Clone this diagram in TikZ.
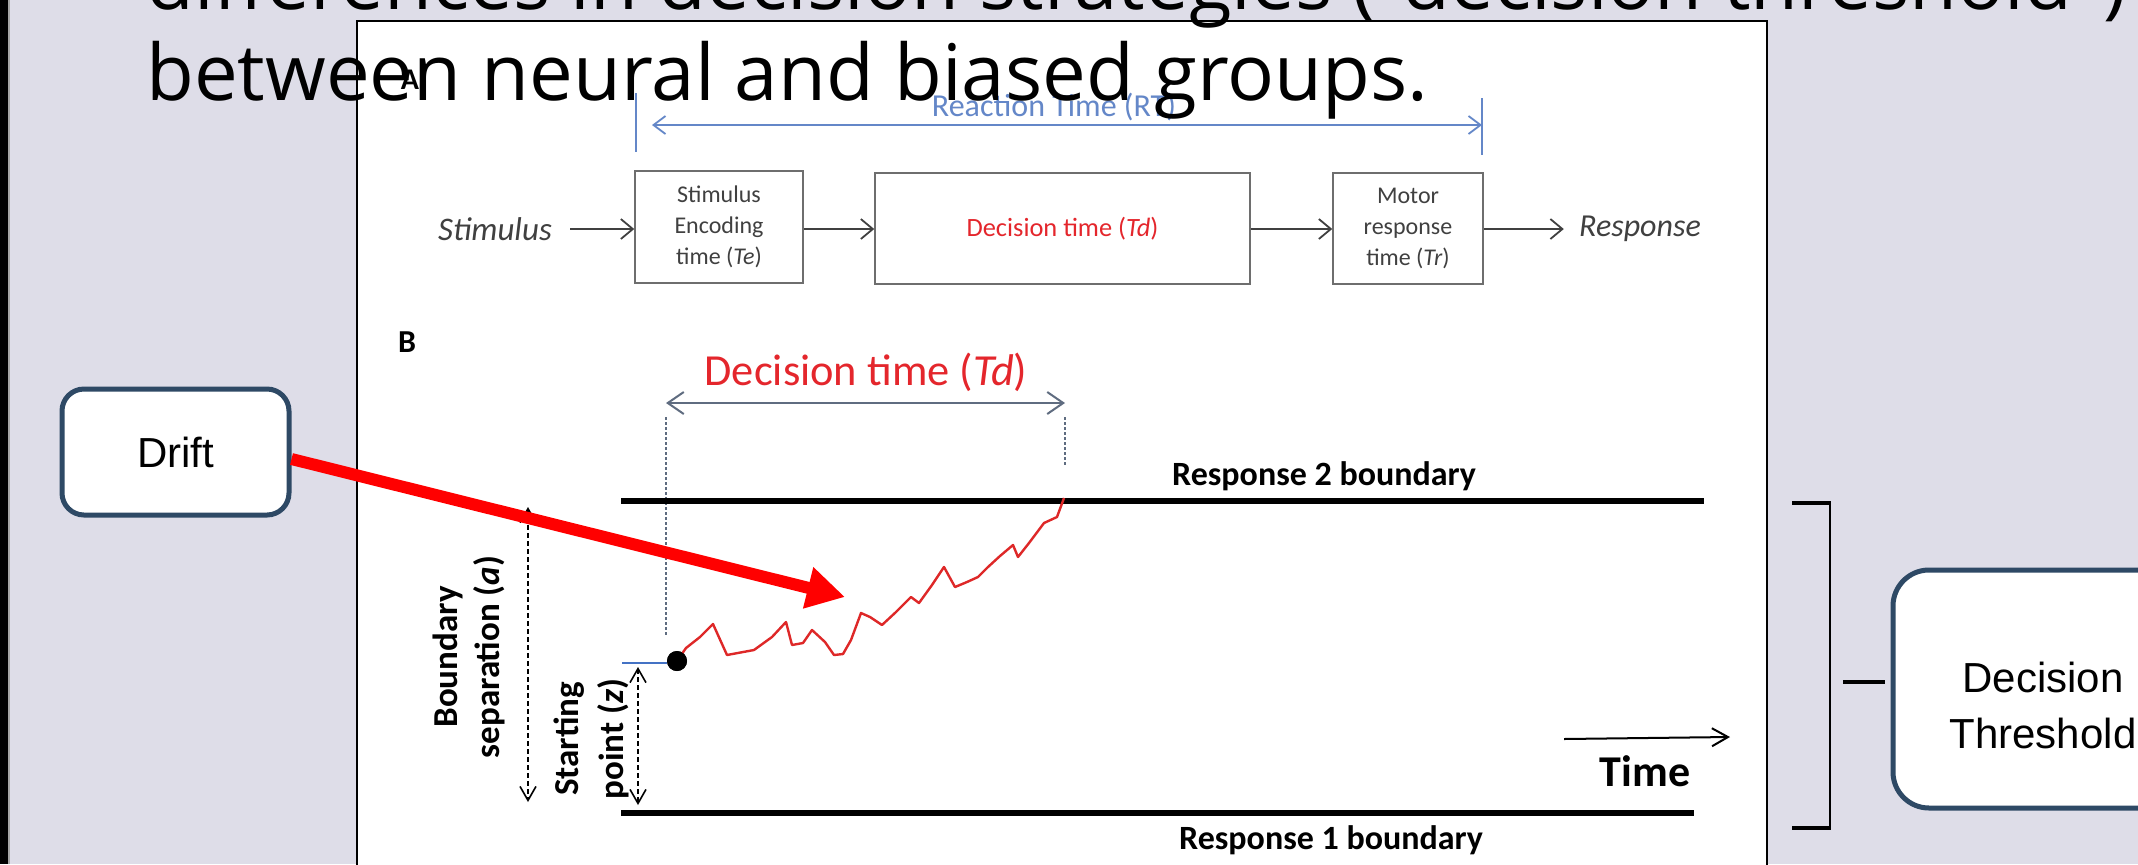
\documentclass[tikz,border=0pt]{standalone}
\usepackage{fontspec}
\setmainfont{Carlito}
\newfontfamily\titlefont{Open Sans}
\newfontfamily\arialfont{Liberation Sans}
\usetikzlibrary{arrows.meta}
\definecolor{bgcol}{RGB}{222,221,232}
\definecolor{boxtxt}{RGB}{64,64,64}
\definecolor{boxline}{RGB}{110,110,110}
\definecolor{rtblue}{RGB}{100,135,200}
\definecolor{tdred}{RGB}{228,38,44}
\definecolor{tdarrow}{RGB}{95,108,128}
\definecolor{slate}{RGB}{46,73,101}
\definecolor{pathred}{RGB}{222,40,40}
\definecolor{startblue}{RGB}{68,114,196}
\newcommand{\fsz}[2]{\fontsize{#1}{#2}\selectfont}
\begin{document}
\begin{tikzpicture}[x=0.5pt,y=-0.5pt,
  stagebox/.style={draw=boxline, line width=0.75pt, align=center, text=boxtxt,
    font=\fsz{12pt}{15.5pt}, inner sep=0pt},
  flow/.style={draw=boxtxt, line width=0.9pt, -{Straight Barb[length=6pt,width=10pt]}},
  rtarrow/.style={draw=rtblue, line width=0.9pt,
    {Straight Barb[length=6pt,width=9pt]}-{Straight Barb[length=6pt,width=9pt]}},
  tdarrowst/.style={draw=tdarrow, line width=1pt,
    {Straight Barb[length=8pt,width=11pt]}-{Straight Barb[length=8pt,width=11pt]}},
  guide/.style={draw=tdarrow, line width=0.6pt, dash pattern=on 1.5pt off 1pt},
  bound/.style={draw=black, line width=2.8pt},
  dashedarrow/.style={draw=black, line width=0.8pt, dash pattern=on 2.5pt off 1.5pt,
    {Straight Barb[length=7pt,width=8pt]}-{Straight Barb[length=7pt,width=8pt]}},
  boldlab/.style={font=\bfseries\fsz{17pt}{20pt}, inner sep=0pt},
  sidelab/.style={font=\bfseries\fsz{17.5pt}{21pt}, rotate=90, align=center, inner sep=0pt},
  callout/.style={draw=slate, line width=2.5pt, fill=white, rounded corners=11pt,
    font=\arialfont\fsz{21pt}{28pt}, align=center, inner sep=0pt},
  titletext/.style={font=\titlefont\fsz{39pt}{46pt}, anchor=base west, inner sep=0pt}
]
\useasboundingbox (0,0) rectangle (2138,864);
\clip (0,0) rectangle (2138,864);
% background
\fill[bgcol] (0,0) rectangle (2138,864);
\fill[black] (0,0) rectangle (8,864);
\fill[black!35] (8,0) rectangle (10,864);
% white figure panel
\filldraw[fill=white, draw=black, line width=0.75pt] (357,900) -- (357,21) -- (1767,21) -- (1767,900);

% ---------- Panel A ----------
\node[font=\bfseries\fsz{15pt}{18pt}, inner sep=0pt] (labA) at (410,80) {A};
\coordinate (rtL) at (636,125);
\coordinate (rtR) at (1482,125);
\draw[rtblue, line width=0.6pt] (636,93) -- (636,152);
\draw[rtblue, line width=0.6pt] (1482,98) -- (1482,155);
\draw[rtarrow] ([xshift=8pt]rtL) -- (rtR);
\node[text=rtblue, font=\fsz{16pt}{19pt}, inner sep=0pt] (rtlab) at (1054,107) {Reaction Time (RT)};

\node[font=\itshape\fsz{16.5pt}{19pt}, text=boxtxt, inner xsep=9pt, inner ysep=0pt] (stim) at (495,229) {Stimulus};
\node[stagebox, minimum width=84pt, minimum height=56pt] (enc) at (719,227)
  {Stimulus\\Encoding\\time (\textit{Te})};
\node[stagebox, minimum width=187.5pt, minimum height=55.5pt, text=tdred, font=\fsz{13.2pt}{16pt}] (dec) at (1062.5,228.5)
  {Decision time (\textit{Td})};
\node[stagebox, minimum width=75pt, minimum height=55.5pt] (mot) at (1408,228.5)
  {Motor\\response\\time (\textit{Tr})};
\node[font=\itshape\fsz{16pt}{19pt}, text=boxtxt, inner xsep=7.5pt, inner ysep=0pt] (resp) at (1640,229) {Response};

\draw[flow] (stim.east) -- (stim.east -| enc.west);
\draw[flow] (enc.east |- stim.east) -- (stim.east -| dec.west);
\draw[flow] (dec.east |- stim.east) -- (stim.east -| mot.west);
\draw[flow] (mot.east |- stim.east) -- (resp.west);

% ---------- Panel B ----------
\node[font=\bfseries\fsz{16pt}{19pt}, inner sep=0pt] (labB) at (407,342) {B};
\node[text=tdred, font=\fsz{22.2pt}{26pt}, inner sep=0pt] (tdlab) at (866,372) {Decision time (\textit{Td})};
\coordinate (tdL) at (666,403);
\coordinate (tdR) at (1065,403);
\draw[tdarrowst] (tdL) -- (tdR);
\draw[guide] (666,417) -- (666,637);
\draw[guide] (1065,417) -- (1065,465);

\coordinate (r2a) at (621,501);
\coordinate (r2b) at (1704,501);
\coordinate (r1a) at (621,813);
\coordinate (r1b) at (1694,813);
\draw[bound] (r2a) -- (r2b);
\draw[bound] (r1a) -- (r1b);
\node[boldlab] (r2lab) at (1324,476) {Response 2 boundary};
\node[boldlab] (r1lab) at (1331,840) {Response 1 boundary};

% boundary separation & starting point
\coordinate (bsT) at (528,507);
\coordinate (bsB) at (528,802);
\draw[dashedarrow] (bsT) -- (bsB);
\node[sidelab] (bslab) at (469,657) {Boundary\\separation (\textit{a})};
\coordinate (spT) at (638,667);
\coordinate (spB) at (638,805);
\draw[dashedarrow] (spT) -- (spB);
\node[sidelab, font=\bfseries\fsz{17.5pt}{22.5pt}] (splab) at (591,739) {Starting\\point (\textit{z})};
\draw[startblue, line width=1pt] (622,663) -- (667,663);

% diffusion path
\node[circle, fill=black, minimum size=10pt, inner sep=0pt] (dot) at (677,661) {};
\draw[pathred, line width=1.2pt, line join=round]
  (dot.center) -- (686,648) -- (700,637) -- (713,624) -- (727,655) -- (754,650)
  -- (772,637) -- (786,622) -- (792,645) -- (803,643) -- (812,630) -- (825,642)
  -- (834,655) -- (843,654) -- (851,640) -- (861,613) -- (870,617) -- (882,625)
  -- (896,612) -- (911,597) -- (919,603) -- (932,585) -- (944,567) -- (955,587)
  -- (967,582) -- (978,577) -- (988,567) -- (1000,556) -- (1013,545) -- (1018,557)
  -- (1029,543) -- (1044,523) -- (1057,517) -- (1064,498);
\node[circle, fill=black, minimum size=10pt, inner sep=0pt] at (dot) {};

% time axis
\coordinate (tA) at (1564,739);
\coordinate (tB) at (1730,737);
\draw[black, line width=1pt, -{Straight Barb[length=8pt,width=9pt]}] (tA) -- (tB);
\node[font=\bfseries\fsz{22pt}{26pt}, inner sep=0pt] (timelab) at (1645,771) {Time};

% ---------- overlay callouts ----------
\draw[black, line width=1.6pt] (1792,503) -- (1831,503);
\draw[black, line width=1.6pt] (1792,828) -- (1831,828);
\draw[black, line width=1.2pt] (1830,503) -- (1830,828);
\draw[black, line width=1.6pt] (1843,682) -- (1885,682);

\node[callout, minimum width=113.5pt, minimum height=63pt] (drift) at (175.5,452) {Drift};
\node[callout, minimum width=150pt, minimum height=119pt, rounded corners=18pt] (thr) at (2043,689) {};
\node[font=\arialfont\fsz{21pt}{28pt}, align=center, inner sep=0pt] (thrtext) at (2043,705)
  {Decision\\Threshold};
\coordinate (tip) at (845,597);
\draw[red, line width=6pt, -{Triangle[length=19pt,width=20pt]}] ([yshift=-3.5pt]drift.east) -- (tip);

% ---------- title ----------
\node[titletext] (title1) at (146,9) {differences in decision strategies ("decision threshold")};
\node[titletext] (title2) at (146,100) {between neural and biased groups.};
\end{tikzpicture}
\end{document}
